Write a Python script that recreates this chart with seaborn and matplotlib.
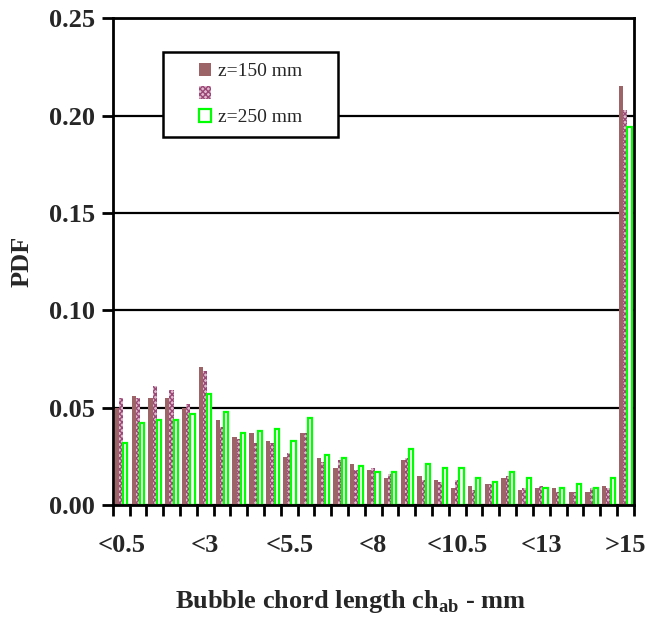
import numpy as np
import pandas as pd
import matplotlib
matplotlib.use('Agg')
import matplotlib.pyplot as plt
from matplotlib.patches import Patch, Rectangle
import seaborn as sns

# chord length classes (0.5 mm steps)
categories = ['<0.5', '<1', '<1.5', '<2', '<2.5', '<3', '<3.5', '<4', '<4.5', '<5',
              '<5.5', '<6', '<6.5', '<7', '<7.5', '<8', '<8.5', '<9', '<9.5', '<10',
              '<10.5', '<11', '<11.5', '<12', '<12.5', '<13', '<13.5', '<14', '<14.5', '<15',
              '>15']
shown_labels = ['<0.5', '<3', '<5.5', '<8', '<10.5', '<13', '>15']

pdf_z150 = [0.050, 0.056, 0.055, 0.055, 0.050, 0.071, 0.044, 0.035, 0.037, 0.033,
            0.025, 0.037, 0.024, 0.019, 0.021, 0.018, 0.014, 0.023, 0.015, 0.013,
            0.009, 0.010, 0.011, 0.014, 0.008, 0.009, 0.009, 0.007, 0.007, 0.010,
            0.215]
pdf_mid = [0.055, 0.055, 0.061, 0.059, 0.052, 0.069, 0.040, 0.034, 0.032, 0.032,
           0.027, 0.037, 0.022, 0.023, 0.018, 0.019, 0.016, 0.024, 0.013, 0.012,
           0.013, 0.008, 0.011, 0.015, 0.009, 0.010, 0.007, 0.007, 0.009, 0.009,
           0.203]
pdf_z250 = [0.032, 0.042, 0.044, 0.044, 0.047, 0.057, 0.048, 0.037, 0.038, 0.039,
            0.033, 0.045, 0.026, 0.024, 0.020, 0.017, 0.017, 0.029, 0.021, 0.019,
            0.019, 0.014, 0.012, 0.017, 0.014, 0.009, 0.009, 0.011, 0.009, 0.014,
            0.194]

series_names = ['z=150 mm', 'mid', 'z=250 mm']

df = pd.DataFrame({
    'cls': categories * 3,
    'pdf': pdf_z150 + pdf_mid + pdf_z250,
    'series': [s for s in series_names for _ in categories],
})

brown = '#9c6466'
pink = '#e2b9cf'
purple = '#9a4876'
green = '#00ff00'

sns.set_style('ticks')
plt.rcParams['font.family'] = ['Liberation Serif', 'DejaVu Serif']
plt.rcParams['mathtext.fontset'] = 'custom'
plt.rcParams['mathtext.rm'] = 'Liberation Serif:bold'
plt.rcParams['mathtext.bf'] = 'Liberation Serif:bold'
plt.rcParams['hatch.linewidth'] = 1.0

fig, ax = plt.subplots(figsize=(6.48, 6.23), dpi=100)
fig.subplots_adjust(left=0.174, right=0.978, bottom=0.189, top=0.971)

sns.barplot(data=df, x='cls', y='pdf', hue='series', order=categories,
            hue_order=series_names, palette=[brown, pink, 'white'],
            width=0.75, dodge=True, legend=False, errorbar=None,
            saturation=1, ax=ax)

# style the three bar groups
for bar in ax.containers[0]:
    bar.set_facecolor(brown)
    bar.set_edgecolor(brown)
    bar.set_linewidth(0)
for bar in ax.containers[1]:
    bar.set_facecolor(pink)
    bar.set_edgecolor(purple)
    bar.set_hatch('xxxxxx')
    bar.set_linewidth(0)
for bar in ax.containers[2]:
    bar.set_facecolor('white')
    bar.set_edgecolor(green)
    bar.set_linewidth(1.6)

ax.set_ylim(0, 0.25)
ax.set_xlim(-0.5, len(categories) - 0.5)
ax.set_yticks(np.arange(0, 0.251, 0.05))
ax.set_yticklabels([f'{v:.2f}' for v in np.arange(0, 0.251, 0.05)],
                   fontsize=19, fontweight='bold')
ax.yaxis.grid(True, color='black', linewidth=1.6)
ax.set_axisbelow(True)

# ticks between classes, labels every 5 classes
ax.set_xticks(np.arange(-0.5, len(categories), 1))
ax.set_xticklabels([])
ax.tick_params(axis='x', which='major', direction='out', length=8, width=2, color='black')
label_pos = [categories.index(c) for c in shown_labels]
ax.set_xticks(label_pos, minor=True)
ax.set_xticklabels(shown_labels, minor=True, fontsize=19, fontweight='bold')
ax.tick_params(axis='x', which='minor', length=0, pad=21)
ax.tick_params(axis='y', direction='out', length=8, width=2, pad=5, color='black')

for sp in ax.spines.values():
    sp.set_visible(True)
    sp.set_color('black')
    sp.set_linewidth(2)

ax.set_xlabel(r'Bubble chord length ch$_{\mathrm{ab}}$ - mm', fontsize=19,
              fontweight='bold', labelpad=22)
ax.xaxis.label.set_x(0.457)
ax.set_ylabel('PDF', fontsize=19, fontweight='bold', labelpad=11)

# legend box
box = Rectangle((163 / 648, 1 - 137 / 623), 175 / 648, 85 / 623,
                transform=fig.transFigure, facecolor='white', edgecolor='black',
                linewidth=1.8, zorder=4)
ax.add_artist(box)
handles = [Patch(facecolor=brown, edgecolor=brown, linewidth=0),
           Patch(facecolor=pink, edgecolor=purple, hatch='xxxxxx', linewidth=0),
           Patch(facecolor='white', edgecolor=green, linewidth=1.6)]
leg = ax.legend(handles, ['z=150 mm', ' ', 'z=250 mm'], loc='center',
                bbox_to_anchor=(250.5 / 648, 1 - 94.5 / 623),
                bbox_transform=fig.transFigure, frameon=False,
                prop={'size': 14}, handlelength=0.65, handleheight=0.65,
                handletextpad=0.35, labelspacing=0.3)
leg.set_zorder(5)

fig.savefig('out.png', dpi=100)
